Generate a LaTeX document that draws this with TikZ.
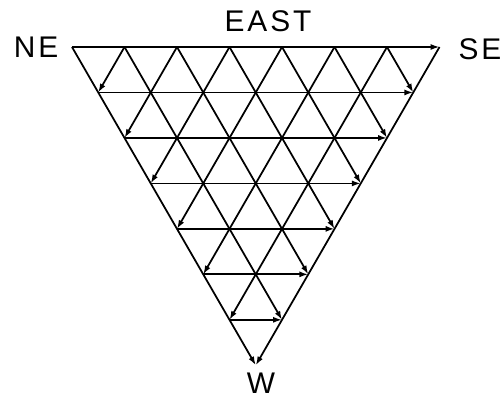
\documentclass[tikz,border=0pt]{standalone}
\usepackage{fontspec}
\setmainfont{Liberation Sans}
\usetikzlibrary{arrows.meta}

\begin{document}
\begin{tikzpicture}[
  x=0.02cm, y=-0.02cm,
  grid/.style={line width=1pt, -{Latex[length=5pt,width=3.4pt]}},
  lbl/.style={font=\fontsize{17}{20}\selectfont\addfontfeature{LetterSpace=10}, inner sep=0pt}
]
\useasboundingbox (0,0) rectangle (500,399);
% lattice points, row r counted from the top, k along the row
\foreach \r in {0,...,7}{
  \pgfmathtruncatemacro{\last}{7-\r}
  \foreach \k in {0,...,\last}
    \coordinate (v-\r-\k) at ({72+\r*26.25+\k*52.5},{47+\r*45.47});
}
\coordinate (ne) at (v-0-0);
\coordinate (se) at (v-0-7);
\coordinate (w) at (v-7-0);
% east-west rows
\foreach \r in {0,...,6}{
  \pgfmathtruncatemacro{\last}{7-\r}
  \draw[grid] (v-\r-0) -- (v-\r-\last);
}
% lines parallel to NE--W
\foreach \k in {0,...,6}{
  \pgfmathtruncatemacro{\last}{7-\k}
  \draw[grid] (v-0-\k) -- (v-\last-\k);
}
% lines parallel to SE--W
\foreach \m in {1,...,7}
  \draw[grid] (v-0-\m) -- (v-\m-0);
\node[lbl] (nelbl) at (36,47) {NE};
\node[lbl] (eastlbl) at (268,21) {EAST};
\node[lbl] (selbl) at (480,49) {SE};
\node[lbl] (wlbl) at (261,383) {W};
\end{tikzpicture}
\end{document}
